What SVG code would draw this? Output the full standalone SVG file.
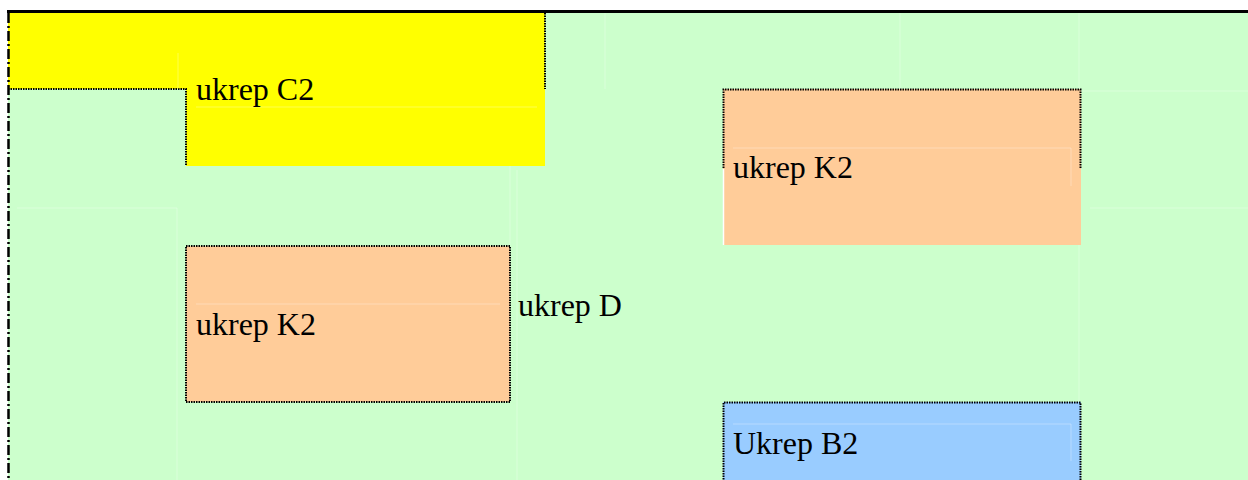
<svg xmlns="http://www.w3.org/2000/svg" width="1248" height="480" viewBox="0 0 1248 480">
<style>
.lbl{font-family:"Liberation Serif","Times New Roman",serif;font-size:32px;fill:#000}
.dot{fill:none;stroke:#000;stroke-width:2;stroke-dasharray:1.5 1}
.faint{fill:none;stroke:#fff;stroke-width:1;opacity:0.3}
</style>
<rect x="0" y="0" width="1248" height="480" fill="#fff"/>
<g id="floor">
<rect x="8" y="12" width="1240" height="468" fill="#ccffcc"/>
<path class="faint" d="M17 208H177V480M1090 208H1248M1080 91H1248M1079 13V480M517 170V480M510 13V245M900 13V89M605 13V89"/>
</g>
<g id="ukrep-C2">
<path d="M8 13H545V166H186V89H8Z" fill="#ffff00"/>
<path class="dot" d="M8 89H186V166"/>
<path class="dot" d="M545 13V89"/>
<path class="faint" d="M178 53V89M196 107H537"/>
<text class="lbl" x="196" y="100">ukrep C2</text>
</g>
<g id="ukrep-K2-right">
<rect x="723" y="89" width="358" height="156" fill="#ffcc99"/>
<path class="dot" d="M723.5 168V89.5H1080.5V169"/>
<path d="M723.5 169V245" stroke="#fff" stroke-width="1.5"/>
<path class="faint" d="M733 148H1071V186" opacity="0.6"/>
<text class="lbl" x="733" y="178">ukrep K2</text>
</g>
<g id="ukrep-K2-left">
<rect x="186" y="246" width="324" height="156" class="dot" style="fill:#ffcc99"/>
<path class="faint" d="M196 304H500" opacity="0.6"/>
<text class="lbl" x="196" y="335">ukrep K2</text>
</g>
<g id="ukrep-D">
<text class="lbl" x="518" y="316">ukrep D</text>
</g>
<g id="ukrep-B2">
<rect x="723" y="402" width="358" height="80" fill="#99ccff"/>
<path class="dot" d="M723.5 482V402.5H1080.5V482"/>
<path class="faint" d="M733 424H1071V461" opacity="0.6"/>
<text class="lbl" x="733" y="454">Ukrep B2</text>
</g>
<g id="borders">
<path d="M7 11.5H1248" stroke="#000" stroke-width="3"/>
<path d="M8.5 13V480" stroke="#000" stroke-width="2.5" stroke-dasharray="10 3 2 3" fill="none"/>
</g>
<g id="connectors"/>
</svg>
